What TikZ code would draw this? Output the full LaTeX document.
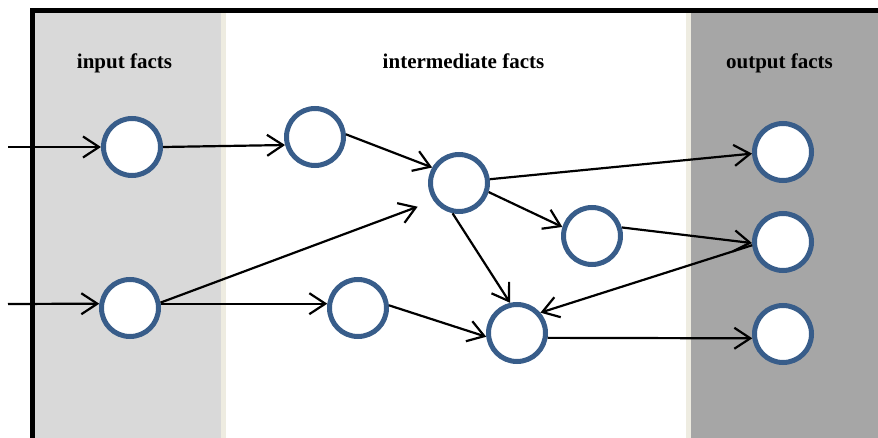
\documentclass[tikz,border=0pt]{standalone}
\usepackage{fontspec}
\setmainfont{Liberation Serif}
\usetikzlibrary{arrows.meta}
\definecolor{ingray}{HTML}{D9D9D9}
\definecolor{outgray}{HTML}{A6A6A6}
\definecolor{tanstrip}{HTML}{EEECE1}
\definecolor{nodeblue}{HTML}{385D8A}
\begin{document}
\begin{tikzpicture}[x=1pt,y=-1pt,
  fact/.style={circle, draw=nodeblue, line width=5pt, fill=white, minimum size=57pt, inner sep=0pt},
  link/.style={line width=2.2pt, -{Straight Barb[length=16pt,width=21pt]}},
  header/.style={font=\bfseries\fontsize{21}{25}\selectfont, anchor=base, inner sep=0pt}]
\useasboundingbox (0,0) rectangle (878,438);
% columns
\fill[ingray] (35,13) rectangle (221,438);
\fill[tanstrip] (221,13) rectangle (226,438);
\fill[tanstrip] (686,13) rectangle (691,438);
\fill[outgray] (691,13) rectangle (878,438);
% frame
\draw[line width=5pt] (32.5,438) -- (32.5,10.5) -- (878,10.5);
% headers
\node[header] (hin) at (124.5,68.5) {input facts};
\node[header] (hmid) at (463.5,68.5) {intermediate facts};
\node[header] (hout) at (779.5,68.5) {output facts};
% nodes
\node[fact] (I1) at (132,147) {};
\node[fact] (I2) at (130,308) {};
\node[fact] (M1) at (315,137) {};
\node[fact] (M2) at (459,183) {};
\node[fact] (M3) at (592,236) {};
\node[fact] (M4) at (517,333) {};
\node[fact] (M5) at (358,308) {};
\node[fact] (O1) at (783,152) {};
\node[fact] (O2) at (783,242) {};
\node[fact] (O3) at (783,334) {};
% free ends
\coordinate (src1) at (8,147);
\coordinate (src2) at (8,304);
% links
\draw[link] (src1) -- (I1.180);
\draw[link] (src2) -- (I2.172);
\draw[link] (I1.0) -- (M1.195);
\draw[link] (M1.5) -- (M2.150);
\draw[link, shorten >=17pt] (I2.10) -- (M2.215);
\draw[link] (I2.8) -- (M5.172);
\draw[link] (M5.5) -- (M4.187);
\draw[link] (M2.343) -- (M3.163);
\draw[link] (M2.258) -- (M4.103);
\draw[link] (M2.7) -- (O1.183);
\draw[link] (M3.16) -- (O2.182);
\draw[link] (O2.186) -- (M4.41);
\draw[link] (M4.351) -- (O3.188);
\end{tikzpicture}
\end{document}
